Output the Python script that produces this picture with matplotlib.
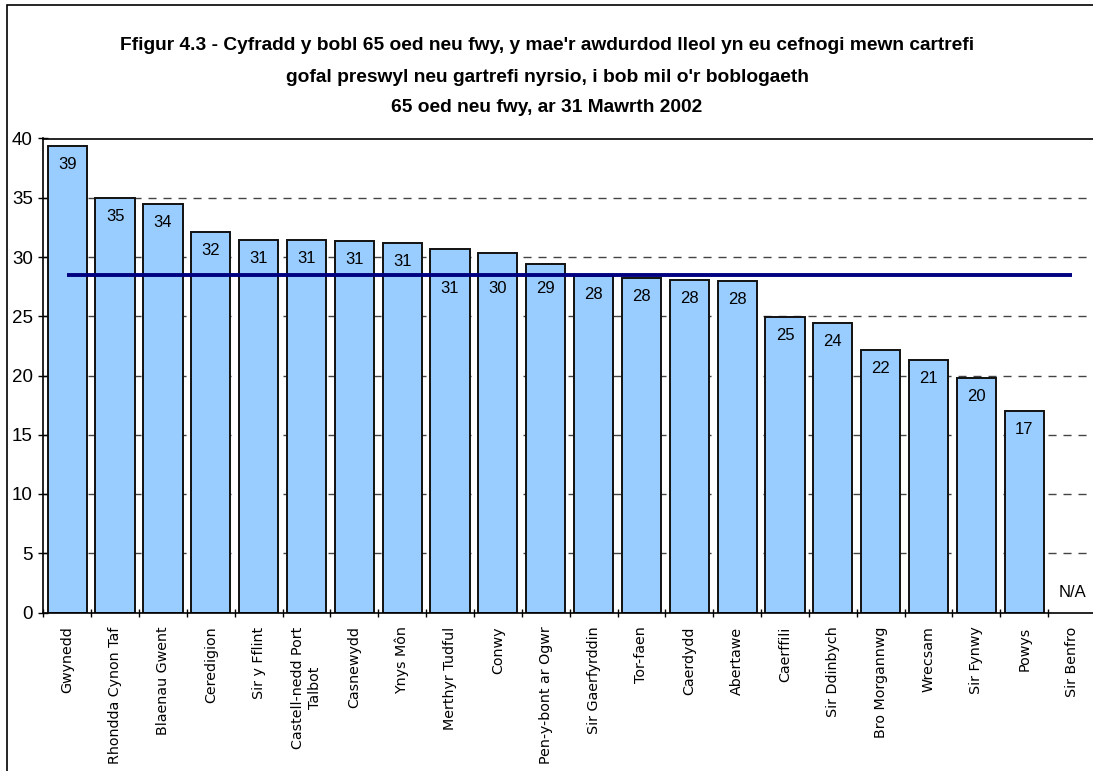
import matplotlib
matplotlib.use("Agg")
import matplotlib.pyplot as plt
from matplotlib.patches import Rectangle
import numpy as np

# ---------------- data ----------------
categories = ["Gwynedd", "Rhondda Cynon Taf", "Blaenau Gwent", "Ceredigion", "Sir y Fflint",
              "Castell-nedd Port\nTalbot", "Casnewydd", "Ynys Môn", "Merthyr Tudful", "Conwy",
              "Pen-y-bont ar Ogwr", "Sir Gaerfyrddin", "Tor-faen", "Caerdydd", "Abertawe",
              "Caerffili", "Sir Ddinbych", "Bro Morgannwg", "Wrecsam", "Sir Fynwy", "Powys",
              "Sir Benfro"]
values = [39.4, 35.0, 34.45, 32.1, 31.45, 31.45, 31.35, 31.2, 30.7, 30.35, 29.45,
          28.4, 28.2, 28.1, 27.95, 24.9, 24.4, 22.15, 21.3, 19.8, 17.0, None]
wales_average = 28.5
y_ticks = [0, 5, 10, 15, 20, 25, 30, 35, 40]
na_label = "N/A"
title_lines = [
    "Ffigur 4.3 - Cyfradd y bobl 65 oed neu fwy, y mae'r awdurdod lleol yn eu cefnogi mewn cartrefi",
    "gofal preswyl neu gartrefi nyrsio, i bob mil o'r boblogaeth",
    "65 oed neu fwy, ar 31 Mawrth 2002",
]

# ---------------- figure ----------------
W, H = 1093, 771
fig = plt.figure(figsize=(W / 100, H / 100), dpi=100)
fig.patch.set_facecolor("white")

# outer frame (left and top edges visible)
fig.add_artist(Rectangle((7 / W, -0.2), 1.5, (H - 5) / H + 0.2, fill=False,
                         edgecolor="black", linewidth=1.2, transform=fig.transFigure))

left_px, right_px, top_px, bottom_px = 43.3, 1096, 138.5, 612.5
ax = fig.add_axes([left_px / W, (H - bottom_px) / H,
                   (right_px - left_px) / W, (bottom_px - top_px) / H])
ax.set_facecolor("white")

n = len(categories)
x = np.arange(n)
ax.set_xlim(-0.5, n - 0.5)
ax.set_ylim(0, 40)

# gridlines
for t in y_ticks[1:-1]:
    ax.axhline(t, color="#444444", linewidth=1.0, linestyle=(0, (5.8, 5.0)), zorder=1)

bar_x = [i for i, v in enumerate(values) if v is not None]
bar_v = [v for v in values if v is not None]
ax.bar(bar_x, bar_v, width=0.82, color="#99CCFF", edgecolor="#111111",
       linewidth=1.4, zorder=2)

# average line
ax.plot(x, [wales_average] * n, color="#000080", linewidth=2.8,
        solid_capstyle="butt", zorder=4)

# data labels
px_per_unit = ax.bbox.height / 40.0
normal_off_px = 18.5
for i, v in enumerate(values):
    if v is None:
        ax.annotate(na_label, xy=(i, 0), xytext=(0, 20 * 0.72), textcoords="offset points",
                    ha="center", va="center", fontsize=12, family="Liberation Sans",
                    zorder=5)
        continue
    centre = v - normal_off_px / px_per_unit
    if abs(centre - wales_average) < 0.9:
        xy, off = (i, wales_average), -14
    else:
        xy, off = (i, v), -normal_off_px
    ax.annotate(f"{round(v)}", xy=xy, xytext=(0, off * 0.72), textcoords="offset points",
                ha="center", va="center", fontsize=12, family="Liberation Sans",
                zorder=5)

# axes styling
ax.spines["right"].set_visible(False)
for s in ["left", "bottom", "top"]:
    ax.spines[s].set_linewidth(1.2)
    ax.spines[s].set_color("black")

ax.set_yticks(y_ticks)
ax.set_yticklabels([str(t) for t in y_ticks], fontsize=13.5, family="Liberation Sans")
ax.tick_params(axis="y", direction="inout", length=7, width=1, pad=4)

ax.set_xticks(x)
ax.set_xticklabels(categories, rotation=90, fontsize=10.3, family="DejaVu Sans",
                   va="top", ha="center", multialignment="center")
ax.tick_params(axis="x", which="major", length=0, pad=10)
ax.set_xticks(np.arange(n + 1) - 0.5, minor=True)
ax.tick_params(axis="x", which="minor", direction="inout", length=6, width=1)

# title
title_y = [45, 78, 108]
for line, yp in zip(title_lines, title_y):
    fig.text(547 / W, 1 - yp / H, line, ha="center", va="center", fontsize=13.8,
             fontweight="bold", family="Liberation Sans")

fig.savefig("out.png", dpi=100)
